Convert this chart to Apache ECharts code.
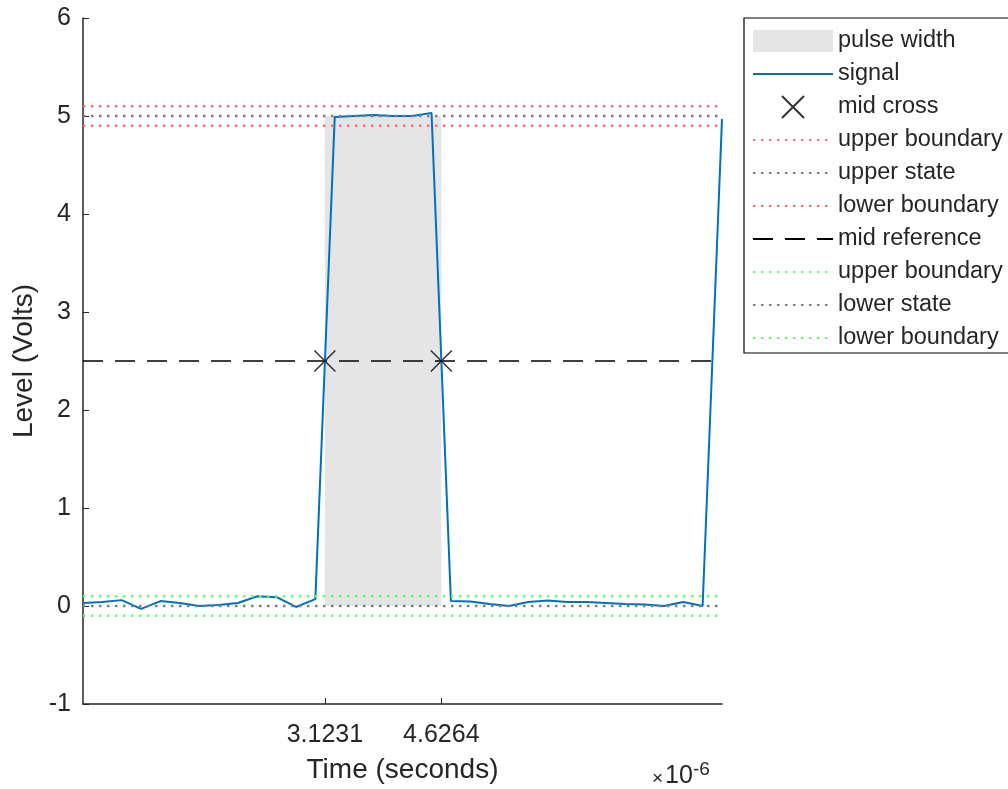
<!DOCTYPE html>
<html>
<head>
<meta charset="utf-8">
<script src="https://cdn.jsdelivr.net/npm/echarts@6/dist/echarts.min.js"></script>
<style>
html,body{margin:0;padding:0;background:#fff;}
#c{width:1008px;height:789px;}
</style>
</head>
<body>
<div id="c"></div>
<script>
// ---- data ----
var timeUs = [0, 0.25, 0.5, 0.75, 1.0, 1.25, 1.5, 1.75, 2.0, 2.25, 2.5, 2.75, 3.0, 3.25, 3.5, 3.75, 4.0, 4.25, 4.5, 4.75, 5.0, 5.25, 5.5, 5.75, 6.0, 6.25, 6.5, 6.75, 7.0, 7.25, 7.5, 7.75, 8.0, 8.25];
var signal = [0.03, 0.04, 0.06, -0.03, 0.05, 0.03, 0.0, 0.01, 0.03, 0.10, 0.09, -0.01, 0.07, 4.99, 5.0, 5.01, 5.0, 5.0, 5.03, 0.05, 0.045, 0.02, 0.0, 0.04, 0.055, 0.04, 0.04, 0.03, 0.02, 0.015, 0.0, 0.04, 0.0, 4.97];
var midCrossTimes = [3.1231, 4.6264];
var midRefLevel = 2.5;
var upperState = 5.0;
var lowerState = 0.0;
var upperStateBounds = [5.1, 4.9];
var lowerStateBounds = [0.1, -0.1];
var xTickLabels = [3.1231, 4.6264];
var yTicks = [-1, 0, 1, 2, 3, 4, 5, 6];
var xRange = [0, 8.25];

var chart = echarts.init(document.getElementById('c'));
var FONT = '"Liberation Sans", Arial, Helvetica, sans-serif';
var TXT = '#262626';

function hline(level) {
  return [[xRange[0], level], [xRange[1], level]];
}
function levelSeries(name, level, color, type, width) {
  return {
    name: name, type: 'line', data: hline(level), symbol: 'none', silent: true,
    lineStyle: {color: color, type: type, width: width},
    itemStyle: {color: color, opacity: 0}, animation: false
  };
}

var dotRed = '#ff7070', dotGray = '#7f7f7f', dotGreen = '#66ff66';

var series = [
  {
    name: 'pulse width', type: 'custom', silent: true, animation: false,
    itemStyle: {color: '#e5e5e5'},
    data: [[midCrossTimes[0], midCrossTimes[1], lowerState, upperState]],
    encode: {x: [0, 1], y: [2, 3]},
    renderItem: function (params, api) {
      var p0 = api.coord([api.value(0), api.value(3)]);
      var p1 = api.coord([api.value(1), api.value(2)]);
      return {type: 'rect', shape: {x: p0[0], y: p0[1], width: p1[0] - p0[0], height: p1[1] - p0[1]},
              style: {fill: '#e5e5e5'}};
    }
  },
  {
    name: 'signal', type: 'line', symbol: 'none', animation: false,
    data: timeUs.map(function (t, i) { return [t, signal[i]]; }),
    lineStyle: {color: '#0072BD', width: 2}, itemStyle: {color: '#0072BD', opacity: 0}
  },
  {
    name: 'mid cross', type: 'scatter', animation: false,
    symbol: 'path://M0,0L10,10M10,0L0,10', symbolSize: 21,
    data: midCrossTimes.map(function (t) { return [t, midRefLevel]; }),
    itemStyle: {color: 'rgba(0,0,0,0)', borderColor: '#000', borderWidth: 1.5}
  },
  levelSeries('upper boundary', upperStateBounds[0], dotRed, [2.5, 5.5], 2.5),
  levelSeries('upper state', upperState, dotGray, [2.5, 5.5], 2.5),
  levelSeries('lower boundary', upperStateBounds[1], dotRed, [2.5, 5.5], 2.5),
  levelSeries('mid reference', midRefLevel, '#000', [20, 12], 1.6),
  levelSeries('upper boundary ', lowerStateBounds[0], dotGreen, [2.5, 5.5], 2.5),
  levelSeries('lower state', lowerState, dotGray, [2.5, 5.5], 2.5),
  levelSeries('lower boundary ', lowerStateBounds[1], dotGreen, [2.5, 5.5], 2.5)
];

var legendData = series.map(function (s, i) {
  var d = {name: s.name};
  if (i === 0) { d.icon = 'rect'; d.itemStyle = {color: '#e5e5e5'}; }
  else if (s.type === 'line') { d.itemStyle = {opacity: 0}; }
  return d;
});

var option = {
  backgroundColor: '#fff',
  animation: false,
  grid: {left: 83, right: 286, top: 18, bottom: 83, containLabel: false},
  xAxis: {
    type: 'value', min: xRange[0], max: xRange[1],
    name: 'Time (seconds)', nameLocation: 'middle', nameGap: 52,
    nameTextStyle: {fontFamily: FONT, fontSize: 28, color: TXT},
    axisLine: {onZero: false, lineStyle: {color: TXT, width: 1.5}},
    axisTick: {inside: true, length: 6, customValues: xTickLabels, lineStyle: {color: TXT}},
    axisLabel: {customValues: xTickLabels, margin: 19, fontFamily: FONT, fontSize: 25, color: TXT,
                formatter: function (v) { return v.toFixed(4); }},
    splitLine: {show: false}
  },
  yAxis: {
    type: 'value', min: yTicks[0], max: yTicks[yTicks.length - 1], interval: 1,
    name: 'Level (Volts)', nameLocation: 'middle', nameGap: 42,
    nameTextStyle: {fontFamily: FONT, fontSize: 28, color: TXT},
    axisLine: {show: true, onZero: false, lineStyle: {color: TXT, width: 1.5}},
    axisTick: {show: true, inside: true, length: 6, lineStyle: {color: TXT}},
    axisLabel: {margin: 12, fontFamily: FONT, fontSize: 25, color: TXT},
    splitLine: {show: false}
  },
  legend: {
    data: legendData, orient: 'vertical', left: 744, top: 18,
    backgroundColor: '#fff', borderColor: '#000', borderWidth: 1.2,
    padding: [11, 40, 3, 8], itemWidth: 80, itemHeight: 22, itemGap: 9,
    selectedMode: false,
    textStyle: {fontFamily: FONT, fontSize: 23.5, color: TXT}
  },
  graphic: [{
    type: 'text', left: 652, top: 760,
    style: {
      text: '{x|×}10{sup|-6}', fontFamily: FONT, fontSize: 25, fill: TXT,
      rich: {
        x: {fontSize: 19, fontFamily: FONT, fill: TXT, padding: [4, 2, 0, 0]},
        sup: {fontSize: 19, fontFamily: FONT, fill: TXT, verticalAlign: 'top', padding: [0, 0, 14, 0]}
      }
    }
  }],
  series: series
};
chart.setOption(option);
</script>
</body>
</html>
